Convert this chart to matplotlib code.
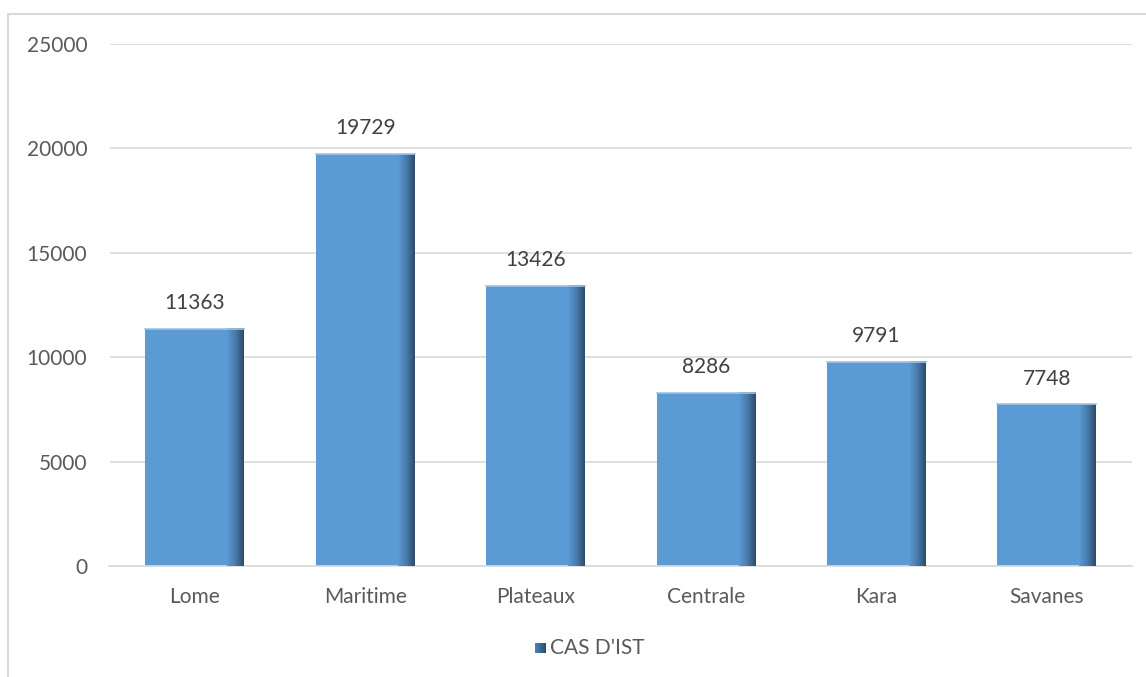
import matplotlib
matplotlib.use("Agg")
import matplotlib.pyplot as plt
import numpy as np
from matplotlib.patches import Rectangle
from matplotlib.colors import LinearSegmentedColormap

categories = ["Lome", "Maritime", "Plateaux", "Centrale", "Kara", "Savanes"]
values = [11363, 19729, 13426, 8286, 9791, 7748]
yticks = [0, 5000, 10000, 15000, 20000, 25000]
series_name = "CAS D'IST"

plt.rcParams['font.family'] = ['Lato', 'DejaVu Sans']
FS = 15

W, H = 1146, 677
fig = plt.figure(figsize=(W / 100, H / 100), dpi=100)
ax = fig.add_axes([109.5 / W, 1 - 566 / H, (1132 - 109.5) / W, (566 - 44) / H])

# outer border of chart area
fig.patches.append(Rectangle((8 / W, -0.05), 1.2, 1 - 14 / H + 0.05, transform=fig.transFigure,
                             fill=False, edgecolor="#d9d9d9", linewidth=1.5, zorder=0))

base = "#5b9bd5"
x = np.arange(len(categories))
width = 0.58
bars = ax.bar(x, values, width=width, color=base, zorder=2)

cmap = LinearSegmentedColormap.from_list("edge", [(0, base), (0.55, "#4677a6"), (1, "#2c4a68")])
grad = np.linspace(0, 1, 64).reshape(1, -1)
for b in bars:
    x0 = b.get_x()
    w = b.get_width()
    h = b.get_height()
    ax.imshow(grad, cmap=cmap, aspect="auto", extent=[x0 + w * 0.83, x0 + w, 0, h],
              zorder=3, interpolation="bilinear")
    ax.plot([x0, x0 + w], [h, h], color="#9dc3e6", linewidth=1.2, zorder=4)
    ax.text(b.get_x() + w / 2, h + 750, f"{int(h)}", ha="center", va="bottom",
            fontsize=FS, color="#404040", zorder=5)

ax.set_xlim(-0.5, len(categories) - 0.5)
ax.set_ylim(0, 25000)
ax.set_yticks(yticks)
ax.set_yticklabels([str(t) for t in yticks])
ax.set_xticks(x)
ax.set_xticklabels(categories)
ax.tick_params(axis="both", length=0, labelsize=FS, labelcolor="#595959")
ax.tick_params(axis="y", pad=16)
ax.tick_params(axis="x", pad=15)
ax.yaxis.grid(True, color="#d9d9d9", linewidth=1.2, zorder=0)
ax.set_axisbelow(True)
for s in ["top", "right", "left"]:
    ax.spines[s].set_visible(False)
ax.spines["bottom"].set_color("#d9d9d9")
ax.spines["bottom"].set_linewidth(1.2)

# legend
lx, ly = 540 / W, 1 - 648 / H
sq = 11
legax = fig.add_axes([lx - sq / 2 / W, ly - sq / 2 / H, sq / W, sq / H])
legax.imshow(grad, cmap=LinearSegmentedColormap.from_list("lg", ["#4a86c0", "#2c4a68"]),
             aspect="auto", extent=[0, 1, 0, 1])
legax.axis("off")
fig.text(lx + 10 / W, ly, series_name, ha="left", va="center", fontsize=FS, color="#595959")

fig.savefig("out.png", dpi=100)
